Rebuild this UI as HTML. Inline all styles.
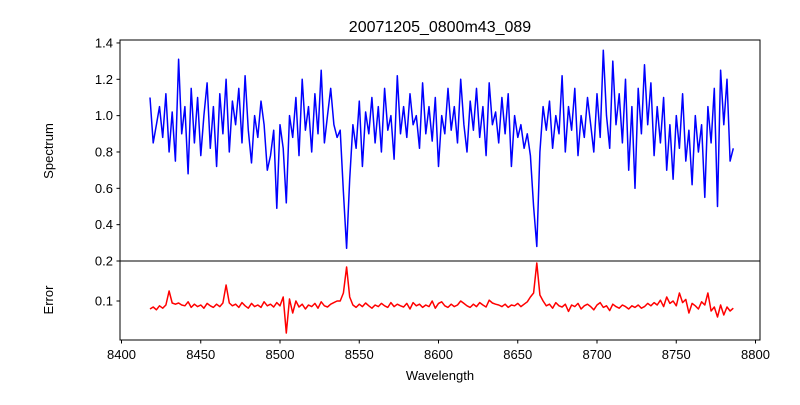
<!DOCTYPE html>
<html><head><meta charset="utf-8"><style>
body{margin:0;background:#fff}
svg text{font-family:"Liberation Sans","DejaVu Sans",sans-serif;fill:#000}
</style></head><body>
<svg id="chart" width="800" height="400" xmlns="http://www.w3.org/2000/svg">
<rect width="800" height="400" fill="#fff"/>
<text x="440" y="32" font-size="16" text-anchor="middle">20071205_0800m43_089</text>
<g id="top"></g><g id="bot"></g>
<text transform="translate(53,151) rotate(-90)" font-size="13" text-anchor="middle">Spectrum</text>
<text transform="translate(53,300) rotate(-90)" font-size="13" text-anchor="middle">Error</text>
<text x="440" y="380" font-size="13" text-anchor="middle">Wavelength</text>
</svg>
<script>
const startWave = 8418, stepWave = 2;
const spectrum = [1.10,0.85,0.95,1.05,0.88,1.12,0.80,1.02,0.75,1.31,
0.90,1.05,0.68,1.15,0.85,1.10,0.78,1.00,1.18,0.82,
1.05,0.72,1.12,0.90,1.20,0.80,1.08,0.95,1.15,0.85,
1.22,0.92,0.74,1.00,0.88,1.08,0.95,0.70,0.78,0.92,
0.49,0.95,0.82,0.52,1.00,0.88,1.10,0.78,1.20,0.92,
1.05,0.80,1.12,0.90,1.25,0.85,1.00,1.15,0.95,0.88,
0.92,0.58,0.27,0.65,0.95,0.82,1.08,0.72,1.02,0.90,
1.10,0.85,1.05,0.80,1.15,0.92,1.00,0.76,1.22,0.90,
1.05,0.88,1.12,0.95,1.00,0.82,1.18,0.90,1.05,0.86,
1.10,0.72,1.00,0.90,1.15,0.92,1.05,0.85,1.20,0.95,
0.80,1.08,0.92,1.15,0.88,1.05,0.78,1.18,0.95,1.02,
0.85,1.10,0.90,1.12,0.72,1.00,0.88,0.95,0.82,0.90,
0.78,0.50,0.28,0.80,1.05,0.92,1.08,0.82,1.00,0.90,
1.22,0.80,1.05,0.92,1.15,0.78,1.00,0.88,1.10,0.95,
0.80,1.12,0.88,1.36,1.00,0.82,1.30,0.95,1.12,0.85,
1.20,0.70,1.05,0.60,1.15,0.90,1.28,0.95,1.18,0.78,
1.05,0.85,1.10,0.70,0.95,0.65,1.00,0.82,1.12,0.75,
0.92,0.62,1.00,0.80,0.95,0.55,1.05,0.85,1.15,0.50,
1.25,0.95,1.20,0.75,0.82];
const errors = [.080,.085,.078,.088,.082,.090,.125,.095,.092,.095,
.090,.088,.098,.084,.092,.086,.090,.082,.094,.088,
.084,.092,.086,.095,.140,.095,.088,.092,.084,.096,
.088,.082,.094,.086,.090,.084,.098,.088,.092,.085,
.096,.088,.110,.020,.105,.070,.100,.085,.092,.080,
.090,.086,.094,.082,.098,.088,.085,.092,.096,.100,
.100,.120,.185,.110,.090,.084,.092,.086,.095,.088,
.082,.090,.086,.094,.088,.084,.096,.086,.092,.088,
.085,.094,.080,.096,.088,.092,.084,.090,.086,.100,
.082,.094,.098,.088,.084,.092,.086,.090,.100,.094,
.088,.084,.092,.086,.096,.090,.085,.102,.095,.092,
.090,.086,.092,.084,.090,.088,.094,.086,.092,.098,
.110,.120,.195,.115,.100,.088,.092,.082,.096,.088,
.085,.092,.074,.090,.086,.094,.080,.088,.092,.086,
.078,.090,.096,.084,.088,.076,.092,.086,.082,.090,
.086,.080,.088,.084,.090,.082,.086,.094,.088,.096,
.090,.102,.086,.110,.094,.100,.088,.120,.096,.104,
.070,.094,.088,.080,.098,.090,.120,.075,.085,.060,
.090,.065,.085,.075,.082];
const xTicks = [8400,8450,8500,8550,8600,8650,8700,8750,8800];
const topTicks = [0.2,0.4,0.6,0.8,1.0,1.2,1.4];
const botTicks = [0.1];

const NS = "http://www.w3.org/2000/svg";
const L = 120, R = 760;
const xs = w => 121.5 + (w - 8400) * 1.585;
const yTop = v => 261 - (v - 0.2) * 181.7;
const yBot = v => 340 - (v - 0.0025) * 400;
function mk(tag, attrs, parent){const e=document.createElementNS(NS,tag);for(const k in attrs)e.setAttribute(k,attrs[k]);parent.appendChild(e);return e;}

function panel(g, y0, y1, data, ys, color, ticks, fmt, name){
  const d = data.map((v,i)=>(i?'L':'M')+xs(startWave+i*stepWave).toFixed(1)+','+ys(v).toFixed(1)).join('');
  const p = mk('path',{d:d,fill:'none',stroke:color,'stroke-width':1.5,'stroke-linejoin':'round'},g);
  
  
  const fr = mk('rect',{x:L,y:y0,width:R-L,height:y1-y0,fill:'none',stroke:'#000','stroke-width':1},g);
  
  
  ticks.forEach(t=>{
    const y = ys(t);
    mk('line',{x1:L-3.5,x2:L,y1:y,y2:y,stroke:'#000'},g);
    const tx = mk('text',{x:L-7,y:y+4.5,'font-size':13,'text-anchor':'end'},g);
    tx.textContent = fmt(t);
    
    
  });
}
panel(document.getElementById('top'),40,261,spectrum,yTop,'#0000ff',topTicks,t=>t.toFixed(1),'spectrum');
panel(document.getElementById('bot'),261,340,errors,yBot,'#ff0000',botTicks,t=>t.toFixed(1),'error');
const bg = document.getElementById('bot');
xTicks.forEach(t=>{
  const x = xs(t);
  mk('line',{x1:x,x2:x,y1:340,y2:343.5,stroke:'#000'},bg);
  const tx = mk('text',{x:x,y:359,'font-size':13,'text-anchor':'middle'},bg);
  tx.textContent = t;
  
  
});
</script>
</body></html>
